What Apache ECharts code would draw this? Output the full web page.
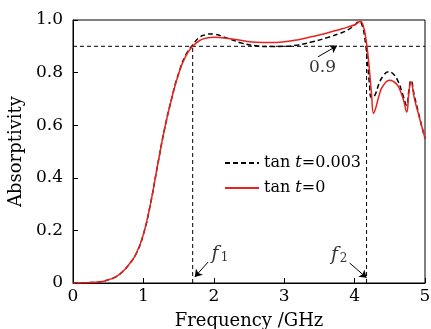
<!DOCTYPE html>
<html>
<head>
<meta charset="utf-8">
<script src="https://cdn.jsdelivr.net/npm/echarts@6/dist/echarts.min.js"></script>
<style>html,body{margin:0;padding:0;background:#fff}#c{width:431px;height:329px}</style>
</head>
<body>
<div id="c"></div>
<script>
// Frequency (GHz) and absorptivity values
const freqLossless = [0,0.2,0.4,0.5,0.6,0.7,0.8,0.9,1.0,1.1,1.2,1.3,1.4,1.5,1.6,1.7,1.8,1.9,2.0,2.2,2.4,2.6,2.8,3.0,3.2,3.4,3.6,3.8,3.9,4.0,4.05,4.08,4.12,4.16,4.2,4.24,4.27,4.3,4.35,4.4,4.5,4.6,4.65,4.7,4.74,4.77,4.8,4.85,4.9,4.95,5.0];
const absLossless  = [0,0.001,0.005,0.012,0.022,0.042,0.072,0.113,0.185,0.30,0.445,0.585,0.70,0.795,0.862,0.90,0.922,0.932,0.934,0.930,0.922,0.915,0.914,0.917,0.925,0.937,0.950,0.965,0.973,0.982,0.990,0.995,0.980,0.930,0.840,0.720,0.645,0.665,0.715,0.748,0.771,0.755,0.730,0.690,0.650,0.720,0.765,0.700,0.650,0.600,0.550];

const freqLossy = [0,0.2,0.4,0.5,0.6,0.7,0.8,0.9,1.0,1.1,1.2,1.3,1.4,1.5,1.6,1.7,1.8,1.9,1.95,2.0,2.2,2.4,2.6,2.8,3.0,3.2,3.4,3.6,3.8,3.9,4.0,4.06,4.1,4.14,4.18,4.21,4.24,4.28,4.35,4.4,4.48,4.55,4.62,4.68,4.74,4.77,4.8,4.85,4.9,4.95,5.0];
const absLossy  = [0,0.001,0.005,0.012,0.022,0.042,0.072,0.113,0.185,0.30,0.445,0.585,0.70,0.797,0.866,0.905,0.935,0.945,0.947,0.946,0.930,0.912,0.902,0.899,0.900,0.905,0.917,0.932,0.950,0.962,0.980,0.994,0.985,0.940,0.850,0.760,0.705,0.710,0.760,0.785,0.803,0.795,0.765,0.720,0.676,0.730,0.770,0.710,0.655,0.600,0.550];

const xTicks = [0,1,2,3,4,5];
const yTicks = [0,0.2,0.4,0.6,0.8,1.0];

const refLevel = 0.9;
const f1 = 1.70;
const f2 = 4.17;

// annotation texts and their anchor points [x, y]
const annoTexts  = ['0.9','f','1','f','2'];
const annoPoints = [[3.544,0.819],[2.017,0.111],[2.152,0.094],[3.715,0.105],[3.845,0.090]];
// arrows: [tail, tip]
const arrows = [[[3.48,0.86],[3.75,0.902]],[[1.92,0.08],[1.73,0.023]],[[3.93,0.076],[4.17,0.02]]];

const seriesNames = ['tan t=0.003','tan t=0'];

const FONT = 'DejaVu Serif';
const zip = (a,b) => a.map((v,i)=>[v,b[i]]);

const chart = echarts.init(document.getElementById('c'), null, {renderer:'canvas'});
chart.setOption({
  animation:false,
  backgroundColor:'#fff',
  textStyle:{fontFamily:FONT,color:'#000'},
  grid:{left:73,right:6,top:20,bottom:46,outerBoundsMode:'none',containLabel:false,
    show:true,borderColor:'#000',borderWidth:1,backgroundColor:'transparent'},
  legend:{
    orient:'vertical', left:219, top:150, itemWidth:34, itemHeight:14, itemGap:9,
    data:seriesNames,
    itemStyle:{opacity:0},
    textStyle:{fontFamily:FONT,fontSize:16,color:'#000',
      rich:{n:{fontFamily:FONT,fontSize:16,color:'#000'},i:{fontFamily:FONT,fontSize:16,fontStyle:'italic',color:'#000'}}},
    formatter: name => { const p = name.split(' t'); return '{n|tan }{i|t}{n|' + p[1] + '}'; }
  },
  xAxis:{
    type:'value', min:xTicks[0], max:xTicks[xTicks.length-1], interval:1,
    name:'Frequency /GHz', nameLocation:'middle', nameGap:29,
    nameTextStyle:{fontFamily:FONT,fontSize:18,color:'#000'},
    axisLine:{onZero:false,lineStyle:{color:'#000',width:1}},
    axisTick:{inside:true,length:5,lineStyle:{color:'#000'}},
    axisLabel:{fontFamily:FONT,fontSize:17,color:'#000',margin:5},
    splitLine:{show:false}
  },
  yAxis:{
    type:'value', min:yTicks[0], max:yTicks[yTicks.length-1], interval:0.2,
    name:'Absorptivity', nameLocation:'middle', nameGap:46,
    nameTextStyle:{fontFamily:FONT,fontSize:18,color:'#000'},
    axisLine:{onZero:false,lineStyle:{color:'#000',width:1}},
    axisTick:{inside:true,length:5,lineStyle:{color:'#000'}},
    axisLabel:{fontFamily:FONT,fontSize:17,color:'#000',margin:10,
      formatter:v => v===0 ? '0' : v.toFixed(1)},
    splitLine:{show:false}
  },
  series:[
    {name:'ref', type:'line', data:[[xTicks[0],refLevel],[xTicks[xTicks.length-1],refLevel]], symbol:'none', silent:true,
      lineStyle:{color:'#000',width:1,type:[4,3]}, z:1},
    {name:'f1line', type:'line', data:[[f1,0],[f1,refLevel]], symbol:'none', silent:true,
      lineStyle:{color:'#000',width:1,type:[4,3]}, z:1},
    {name:'f2line', type:'line', data:[[f2,0],[f2,refLevel]], symbol:'none', silent:true,
      lineStyle:{color:'#000',width:1,type:[4,3]}, z:1},
    {name:seriesNames[0], type:'line', data:zip(freqLossy,absLossy), symbol:'none', smooth:0.5,
      color:'#000', lineStyle:{color:'#000',width:1.5,type:[5,3]}, z:3},
    {name:seriesNames[1], type:'line', data:zip(freqLossless,absLossless), symbol:'none', smooth:0.5,
      color:'#e8231f', lineStyle:{color:'#e8231f',width:1.5}, z:4},
    {name:'anno', type:'scatter', symbolSize:0, silent:true, z:5,
      data:annoPoints.map((p,i)=>({value:p, label:{show:true, position:'inside', formatter:annoTexts[i],
        fontFamily:FONT, color:'#000',
        fontSize: (annoTexts[i]==='1'||annoTexts[i]==='2') ? 12 : (annoTexts[i]==='f' ? 19 : 17),
        fontStyle: annoTexts[i]==='f' ? 'italic' : 'normal'}})),
      markLine:{silent:true, symbol:['none','arrow'], symbolSize:7, label:{show:false},
        lineStyle:{color:'#000',width:1,type:'solid'},
        data:arrows.map(a=>[{coord:a[0]},{coord:a[1]}])}
    }
  ]
});
</script>
</body>
</html>
